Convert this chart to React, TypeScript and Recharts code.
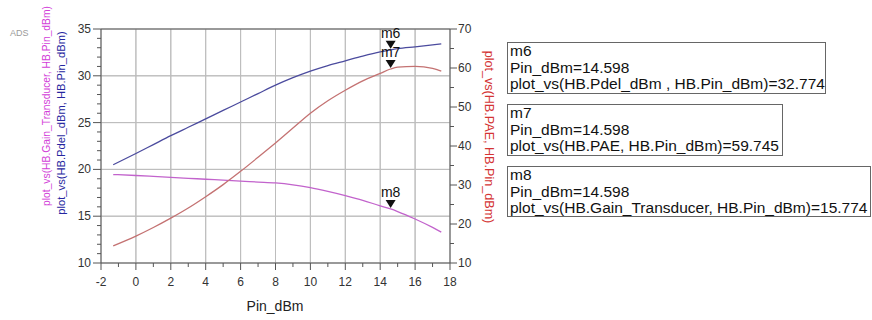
import React from "react"
import {
  ComposedChart,
  Line,
  XAxis,
  YAxis,
  CartesianGrid,
  ReferenceLine,
  ReferenceDot,
} from "recharts"

// ---- data ----
const pinDbm = [-1.3, 0, 1, 2, 3, 4, 5, 6, 7, 8, 9, 10, 11, 12, 13, 14, 14.598, 15, 16, 17, 17.5]
const pdelDbm = [20.5, 21.7, 22.65, 23.6, 24.5, 25.4, 26.3, 27.2, 28.1, 29.0, 29.8, 30.5, 31.1, 31.6, 32.1, 32.55, 32.774, 32.9, 33.1, 33.3, 33.4]
const gainTransducer = [19.45, 19.35, 19.25, 19.15, 19.05, 18.95, 18.85, 18.75, 18.65, 18.55, 18.35, 18.05, 17.65, 17.2, 16.7, 16.1, 15.774, 15.5, 14.7, 13.8, 13.3]
const pae = [14.4, 16.9, 19.1, 21.5, 24.1, 27.0, 30.1, 33.5, 37.1, 40.8, 44.6, 48.4, 51.6, 54.3, 56.7, 58.6, 59.745, 60.2, 60.4, 59.9, 59.2]

const xMajor = [-2, 0, 2, 4, 6, 8, 10, 12, 14, 16, 18]
const xTicks = [-2, -1, 0, 1, 2, 3, 4, 5, 6, 7, 8, 9, 10, 11, 12, 13, 14, 15, 16, 17, 18]
const leftMajor = [10, 15, 20, 25, 30, 35]
const leftTicks = [10, 11, 12, 13, 14, 15, 16, 17, 18, 19, 20, 21, 22, 23, 24, 25, 26, 27, 28, 29, 30, 31, 32, 33, 34, 35]
const rightMajor = [10, 20, 30, 40, 50, 60, 70]
const rightTicks = [10, 15, 20, 25, 30, 35, 40, 45, 50, 55, 60, 65, 70]

const markerNames = ["m6", "m7", "m8"]
const markerPin = [14.598, 14.598, 14.598]
const markerValue = [32.774, 59.745, 15.774]
const markerAxis: (string | number)[] = [0, "right", 0]
const markerExpr = [
  "plot_vs(HB.Pdel_dBm , HB.Pin_dBm)",
  "plot_vs(HB.PAE, HB.Pin_dBm)",
  "plot_vs(HB.Gain_Transducer, HB.Pin_dBm)",
]

const rows = pinDbm.map((p, i) => ({
  pin: p,
  pdel: pdelDbm[i],
  gain: gainTransducer[i],
  pae: pae[i],
}))

const FONT = "'Liberation Sans', Arial, sans-serif"
const AXIS = "#555"
const GRID = "#bdbdbd"
const TICK_TEXT = "#333"

function LeftTick({ x, y, payload }: any) {
  const major = leftMajor.includes(payload.value)
  return (
    <g>
      <line x1={x - (major ? 8 : 4)} x2={x} y1={y} y2={y} stroke={AXIS} />
      {major && (
        <text x={x - 10} y={y} dy={4} textAnchor="end" fontSize={12} fill={TICK_TEXT} fontFamily={FONT}>
          {payload.value}
        </text>
      )}
    </g>
  )
}

function RightTick({ x, y, payload }: any) {
  const major = rightMajor.includes(payload.value)
  return (
    <g>
      <line x1={x} x2={x + (major ? 7 : 4)} y1={y} y2={y} stroke={AXIS} />
      {major && (
        <text x={x + 8} y={y} dy={4} textAnchor="start" fontSize={12} fill={TICK_TEXT} fontFamily={FONT}>
          {payload.value}
        </text>
      )}
    </g>
  )
}

function BottomTick({ x, y, payload }: any) {
  const major = xMajor.includes(payload.value)
  return (
    <g>
      <line x1={x} x2={x} y1={y} y2={y + (major ? 7 : 4)} stroke={AXIS} />
      {major && (
        <text x={x} y={y + 23} textAnchor="middle" fontSize={12} fill={TICK_TEXT} fontFamily={FONT}>
          {payload.value}
        </text>
      )}
    </g>
  )
}

function MarkerShape({ cx, cy, name }: any) {
  const tip = cy - 1
  return (
    <g>
      <path d={`M${cx - 5},${tip - 8} L${cx + 5},${tip - 8} L${cx},${tip} Z`} fill="#111" />
      <text x={cx} y={tip - 11} textAnchor="middle" fontSize={14} fill="#111" fontFamily={FONT}>
        {name}
      </text>
    </g>
  )
}

const boxes = [
  { left: 507, top: 42, width: 319, height: 52 },
  { left: 507, top: 104, width: 276, height: 52 },
  { left: 507, top: 166, width: 364, height: 51 },
]

// rotated axis titles as html, centred on (cx, cy)
function VTitle({ text, cx, cy, deg, color, size }: any) {
  return (
    <div
      style={{
        position: "absolute",
        left: cx,
        top: cy,
        transform: `translate(-50%, -50%) rotate(${deg}deg)`,
        whiteSpace: "nowrap",
        fontSize: size,
        lineHeight: "14px",
        color,
      }}
    >
      {text}
    </div>
  )
}

export default function App() {
  return (
    <div style={{ position: "absolute", left: 0, top: 0, width: 872, height: 320, fontFamily: FONT }}>
      <ComposedChart width={500} height={320} data={rows} margin={{ top: 29, right: 0, left: 0, bottom: 17 }}>
        <CartesianGrid horizontalValues={leftMajor} verticalValues={xMajor} stroke={GRID} />
        <XAxis
          dataKey="pin"
          type="number"
          domain={[-2, 18]}
          ticks={xTicks}
          interval={0}
          height={40}
          stroke={AXIS}
          tickLine={false}
          tickSize={0}
          tickMargin={0}
          tick={<BottomTick />}
        />
        <YAxis
          type="number"
          domain={[10, 35]}
          ticks={leftTicks}
          interval={0}
          width={101}
          stroke={AXIS}
          tickLine={false}
          tickSize={0}
          tickMargin={0}
          tick={<LeftTick />}
        />
        <YAxis
          yAxisId="right"
          orientation="right"
          type="number"
          domain={[10, 70]}
          ticks={rightTicks}
          interval={0}
          width={50}
          stroke={AXIS}
          tickLine={false}
          tickSize={0}
          tickMargin={0}
          tick={<RightTick />}
        />
        {xMajor.slice(1, -1).map((v) => (
          <ReferenceLine key={`gx${v}`} x={v} stroke={GRID} />
        ))}
        {leftMajor.slice(1, -1).map((v) => (
          <ReferenceLine key={`gy${v}`} y={v} stroke={GRID} />
        ))}
        <ReferenceLine y={35} stroke={AXIS} />
        <Line type="monotone" dataKey="pdel" stroke="#4b4b9e" strokeWidth={1.3} dot={false} isAnimationActive={false} />
        <Line type="monotone" dataKey="gain" stroke="#c263cc" strokeWidth={1.3} dot={false} isAnimationActive={false} />
        <Line yAxisId="right" type="monotone" dataKey="pae" stroke="#c47272" strokeWidth={1.3} dot={false} isAnimationActive={false} />
        {markerNames.map((n, i) => (
          <ReferenceDot
            key={n}
            x={markerPin[i]}
            y={markerValue[i]}
            yAxisId={markerAxis[i]}
            shape={(p: any) => <MarkerShape {...p} name={n} />}
          />
        ))}
      </ComposedChart>

      <div style={{ position: "absolute", left: 10, top: 28, fontSize: 9, color: "#9a9a9a" }}>ADS</div>
      <VTitle text="plot_vs(HB.Gain_Transducer, HB.Pin_dBm)" cx={47} cy={106} deg={-90} color="#d23ed8" size={10.3} />
      <VTitle text="plot_vs(HB.Pdel_dBm, HB.Pin_dBm)" cx={61} cy={123} deg={-90} color="#2626a0" size={11.2} />
      <VTitle text="plot_vs(HB.PAE, HB.Pin_dBm)" cx={489} cy={137} deg={90} color="#d43434" size={12.6} />
      <div style={{ position: "absolute", left: 275, top: 298, transform: "translateX(-50%)", fontSize: 14, color: "#222" }}>
        Pin_dBm
      </div>

      {/* marker readout boxes */}
      {markerNames.map((n, i) => (
        <div
          key={n}
          style={{
            position: "absolute",
            left: boxes[i].left,
            top: boxes[i].top,
            width: boxes[i].width,
            height: boxes[i].height,
            boxSizing: "border-box",
            border: "1px solid #666",
            padding: "0 2px",
            fontSize: 15.5,
            lineHeight: "16.5px",
            color: "#111",
            whiteSpace: "nowrap",
            background: "#fff",
          }}
        >
          <div>{n}</div>
          <div>Pin_dBm={markerPin[i].toFixed(3)}</div>
          <div>
            {markerExpr[i]}={markerValue[i].toFixed(3)}
          </div>
        </div>
      ))}
    </div>
  )
}
